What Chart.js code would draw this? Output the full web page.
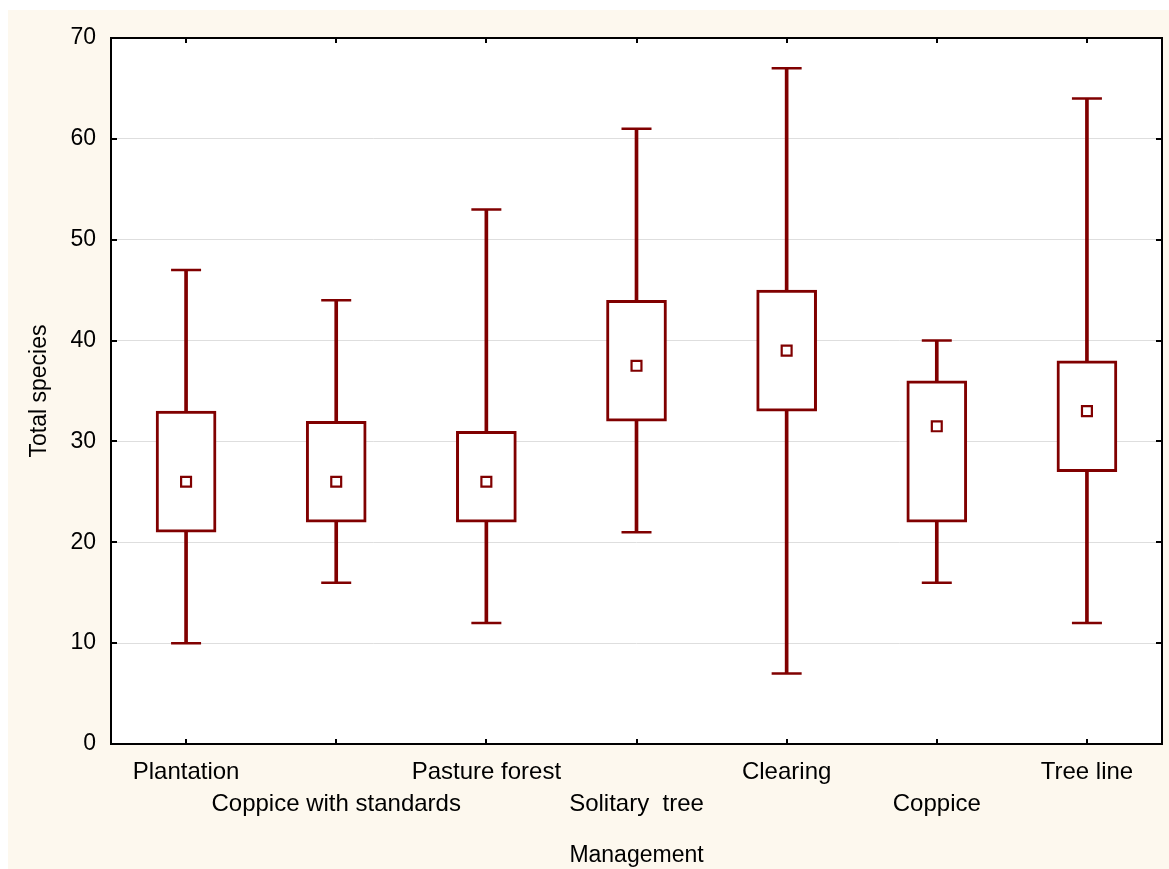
<!DOCTYPE html>
<html>
<head>
<meta charset="utf-8">
<script src="https://cdn.jsdelivr.net/npm/chart.js@4/dist/chart.umd.min.js"></script>
<style>
  html, body { margin: 0; padding: 0; background: #ffffff; overflow: hidden; }
  #wrap { position: absolute; left: 8px; top: 10px; width: 1161px; height: 859px; background: #fdf8ee; }
  canvas { display: block; }
</style>
</head>
<body>
<div id="wrap"><canvas id="c" width="1161" height="859"></canvas></div>
<script>
// ---- data ----
const categories = ['Plantation', 'Coppice with standards', 'Pasture forest', 'Solitary  tree', 'Clearing', 'Coppice', 'Tree line'];
const minValues    = [10, 16, 12, 21,  7, 16, 12];
const q1Values     = [21, 22, 22, 32, 33, 22, 27];
const medianValues = [26, 26, 26, 37.5, 39, 31.5, 33];
const q3Values     = [33, 32, 31, 44, 45, 36, 38];
const maxValues    = [47, 44, 53, 61, 67, 40, 64];
const yTicks = [0, 10, 20, 30, 40, 50, 60, 70];
const xTitle = 'Management';
const yTitle = 'Total species';

const RED = '#800000';
const FONT = '"Liberation Sans", Arial, sans-serif';

const whiskerData = categories.map((c, i) => [minValues[i], maxValues[i]]);
const boxData = categories.map((c, i) => [q1Values[i], q3Values[i]]);

const framePlugin = {
  id: 'frame',
  beforeDraw(chart) {
    const {ctx, chartArea: a} = chart;
    ctx.save();
    ctx.fillStyle = '#ffffff';
    ctx.fillRect(a.left, a.top, a.right - a.left, a.bottom - a.top);
    ctx.restore();
  },
  afterDraw(chart) {
    const {ctx, chartArea: a, scales} = chart;
    ctx.save();
    ctx.strokeStyle = '#000000';
    ctx.lineWidth = 2;
    ctx.strokeRect(a.left, a.top, a.right - a.left, a.bottom - a.top);
    ctx.beginPath();
    yTicks.forEach(v => {
      const y = Math.round(scales.y.getPixelForValue(v));
      ctx.moveTo(a.left, y); ctx.lineTo(a.left + 6, y);
      ctx.moveTo(a.right, y); ctx.lineTo(a.right - 6, y);
    });
    categories.forEach((c, i) => {
      const x = Math.round(scales.x.getPixelForValue(i));
      ctx.moveTo(x, a.bottom); ctx.lineTo(x, a.bottom - 5);
      ctx.moveTo(x, a.top); ctx.lineTo(x, a.top + 5);
    });
    ctx.stroke();
    ctx.restore();
  }
};

new Chart(document.getElementById('c'), {
  type: 'bar',
  data: {
    labels: categories,
    datasets: [
      { type: 'line', label: 'median', data: medianValues, showLine: false, pointStyle: 'rect', pointRadius: 7,
        pointBackgroundColor: '#ffffff', pointBorderColor: RED, pointBorderWidth: 2.2, order: 0 },
      { type: 'line', label: 'max', data: maxValues, showLine: false, pointStyle: 'line', pointRadius: 15,
        pointBorderColor: RED, pointBorderWidth: 2.5, order: 1 },
      { type: 'line', label: 'min', data: minValues, showLine: false, pointStyle: 'line', pointRadius: 15,
        pointBorderColor: RED, pointBorderWidth: 2.5, order: 1 },
      { type: 'bar', label: 'box', data: boxData, grouped: false, barThickness: 60,
        backgroundColor: '#ffffff', borderColor: RED, borderWidth: 3, borderSkipped: false, order: 2 },
      { type: 'bar', label: 'whisker', data: whiskerData, grouped: false, barThickness: 3,
        backgroundColor: RED, borderWidth: 0, order: 3 }
    ]
  },
  options: {
    responsive: false,
    animation: false,
    events: [],
    layout: { autoPadding: false, padding: { left: 0, top: 28, right: 7, bottom: 0 } },
    plugins: { legend: { display: false }, tooltip: { enabled: false } },
    scales: {
      x: {
        type: 'category',
        grid: { display: false, drawTicks: false },
        border: { display: false },
        ticks: {
          autoSkip: false, maxRotation: 0, minRotation: 0, padding: 12,
          color: '#000000', font: { family: FONT, size: 24, lineHeight: 1.35 },
          callback: (v, i) => (i % 2 === 1 ? ['', categories[i]] : categories[i])
        },
        title: { display: true, text: xTitle, color: '#000000', font: { family: FONT, size: 23 }, padding: { top: 0, bottom: 0 } },
        afterFit: s => { s.height = 125; s.paddingLeft = 0; s.paddingRight = 0; }
      },
      y: {
        min: 0, max: 70,
        grid: { color: '#dedede', lineWidth: 1, drawTicks: false },
        border: { display: false },
        ticks: { stepSize: 10, padding: 15, color: '#000000', font: { family: FONT, size: 23 } },
        afterBuildTicks: s => { s.ticks = yTicks.map(v => ({ value: v })); },
        title: { display: true, text: yTitle, color: '#000000', font: { family: FONT, size: 23 }, padding: { top: 18, bottom: 0 } },
        afterFit: s => { s.width = 103; s.paddingTop = 0; s.paddingBottom = 0; }
      }
    }
  },
  plugins: [framePlugin]
});
</script>
</body>
</html>
